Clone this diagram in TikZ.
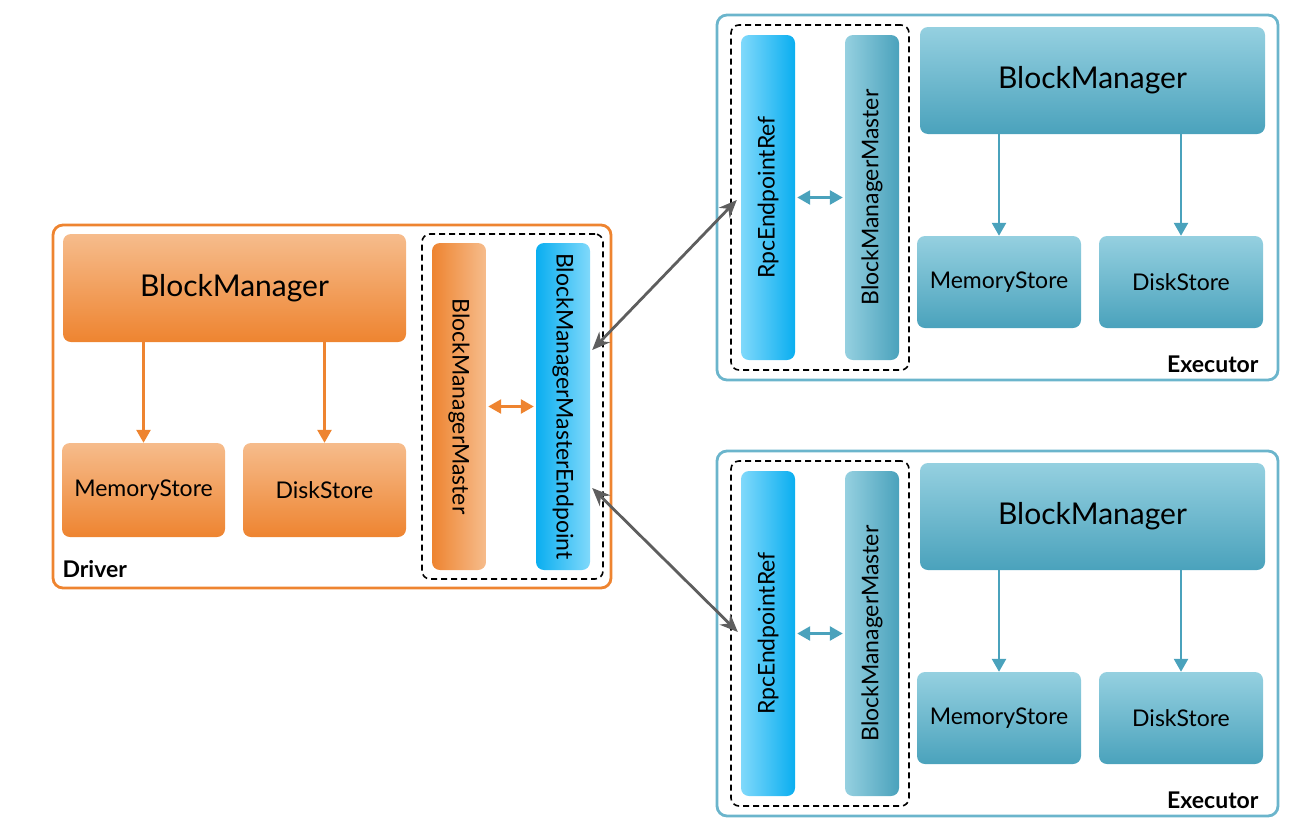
\documentclass[tikz,border=0pt]{standalone}
\usepackage{fontspec}
\setmainfont{Lato}
\usetikzlibrary{arrows.meta}

\definecolor{orgDark}{HTML}{EE8430}
\definecolor{orgLight}{HTML}{F6BC8C}
\definecolor{tealDark}{HTML}{4AA2BC}
\definecolor{tealLight}{HTML}{95D0E0}
\definecolor{tealLine}{HTML}{6BB5CC}
\definecolor{skyDark}{HTML}{0AAEF0}
\definecolor{skyLight}{HTML}{80D9FB}
\definecolor{arrGray}{HTML}{5E5E5E}

\begin{document}
\begin{tikzpicture}[x=1pt, y=-1pt,
	box/.style = {shape=rectangle, rounded corners=8pt, inner sep=0pt},
	obox/.style = {box, top color=orgLight, bottom color=orgDark},
	tbox/.style = {box, top color=tealLight, bottom color=tealDark},
	frame/.style = {shape=rectangle, rounded corners=10pt, line width=2.8pt, inner sep=0pt},
	group/.style = {shape=rectangle, rounded corners=8pt, draw=black, line width=1.6pt,
		dash pattern=on 6pt off 4pt, inner sep=0pt},
	big/.style = {font=\fontsize{30}{34}\selectfont},
	mid/.style = {font=\fontsize{23}{27}\selectfont},
	tag/.style = {font=\fontsize{23}{27}\selectfont\bfseries},
	tip/.style = {Triangle[width=14pt,length=13pt]},
	oarrow/.style = {draw=orgDark, line width=2.6pt, -{Triangle[width=14pt,length=13pt]}},
	tarrow/.style = {draw=tealDark, line width=2.6pt, -{Triangle[width=14pt,length=13pt]}},
	garrow/.style = {draw=arrGray, line width=2.8pt,
		{Stealth[width=15pt,length=18pt]}-{Stealth[width=15pt,length=18pt]}}]

	\useasboundingbox (0,0) rectangle (1300,836);

	% driver side
	\node[frame, draw=orgDark, minimum width=558pt, minimum height=363pt] (drv) at (332,406.5) {};
	\node[obox, minimum width=343pt, minimum height=108pt, big] (dbm) at (234.5,288) {BlockManager};
	\node[obox, minimum width=163pt, minimum height=94pt, mid] (dms) at (143.5,490) {MemoryStore};
	\node[obox, minimum width=163pt, minimum height=94pt, mid] (dds) at (324.5,490) {DiskStore};
	\node[group, minimum width=181pt, minimum height=345pt] (dgrp) at (512.5,406.5) {};
	\node[box, left color=orgDark, right color=orgLight, minimum width=54pt, minimum height=327pt] (dmaster) at (459,406.5) {};
	\node[box, left color=skyDark, right color=skyLight, minimum width=54pt, minimum height=327pt] (dendp) at (563,406.5) {};
	\node[rotate=-90, mid] at (dmaster) {BlockManagerMaster};
	\node[rotate=-90, mid] at (dendp) {BlockManagerMasterEndpoint};
	\node[tag, anchor=base west] (dlbl) at (59,577) {Driver};

	\draw[oarrow] (dbm.south -| dms) -- (dms.north);
	\draw[oarrow] (dbm.south -| dds) -- (dds.north);
	\draw[oarrow, {Triangle[width=14pt,length=13pt]}-{Triangle[width=14pt,length=13pt]}]
		([xshift=2pt]dmaster.east) -- ([xshift=-2pt]dendp.west);

	% executor side
	\foreach \i/\dy in {1/0, 2/436} {
		\begin{scope}[shift={(0,\dy)}]
			\node[frame, draw=tealLine, minimum width=561pt, minimum height=365pt] (ex\i) at (997.5,197.5) {};
			\node[group, minimum width=178pt, minimum height=345pt] (grp\i) at (820,197.5) {};
			\node[box, left color=skyLight, right color=skyDark, minimum width=54pt, minimum height=325pt] (rpc\i) at (768,197.5) {};
			\node[box, left color=tealLight, right color=tealDark, minimum width=54pt, minimum height=325pt] (master\i) at (872,197.5) {};
			\node[rotate=90, mid] at (rpc\i) {RpcEndpointRef};
			\node[rotate=90, mid] at (master\i) {BlockManagerMaster};
			\node[tbox, minimum width=345pt, minimum height=107pt, big] (bm\i) at (1092.5,80.5) {BlockManager};
			\node[tbox, minimum width=164pt, minimum height=92pt, mid] (ms\i) at (999,282) {MemoryStore};
			\node[tbox, minimum width=164pt, minimum height=92pt, mid] (ds\i) at (1181,282) {DiskStore};
			\node[tag, anchor=base east] (lbl\i) at (1262,372) {Executor};

			\draw[tarrow] (bm\i.south -| ms\i) -- (ms\i.north);
			\draw[tarrow] (bm\i.south -| ds\i) -- (ds\i.north);
			\draw[tarrow, {Triangle[width=14pt,length=13pt]}-{Triangle[width=14pt,length=13pt]}]
				([xshift=2pt]rpc\i.east) -- ([xshift=-2pt]master\i.west);
		\end{scope}
	}

	% driver <-> executors
	\draw[garrow] ([yshift=56.5pt,xshift=2pt]dendp.east) -- ([xshift=-4pt,yshift=-2.5pt]rpc1.west);
	\draw[garrow] ([yshift=-81.5pt,xshift=2pt]dendp.east) -- ([xshift=-3pt,yshift=1.5pt]rpc2.west);
\end{tikzpicture}
\end{document}
